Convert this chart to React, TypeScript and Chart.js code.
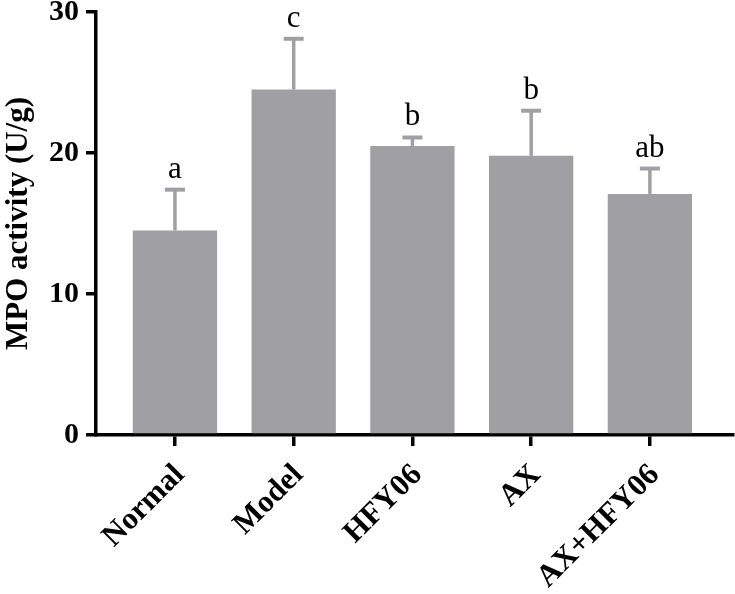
import React, { useEffect, useRef } from "react";
import { Chart, registerables } from "chart.js";

Chart.register(...registerables);

const categories = ["Normal", "Model", "HFY06", "AX", "AX+HFY06"];
const meanValues = [14.5, 24.5, 20.5, 19.8, 17.1];
const upperErrors = [17.4, 28.1, 21.1, 23.0, 18.9];
const letters = ["a", "c", "b", "b", "ab"];
const yTicks = [0, 10, 20, 30];

const BAR_COLOR = "rgb(160,160,164)";
const SERIF = "'Liberation Serif'";

const errorPlugin = {
  id: "errorBarsLetters",
  afterDatasetsDraw(chart: any) {
    const { ctx, scales } = chart;
    const xs = scales.x;
    const ys = scales.y;
    ctx.save();
    categories.forEach((_, i) => {
      const x = xs.getPixelForValue(i);
      const yTop = ys.getPixelForValue(meanValues[i]);
      const yErr = ys.getPixelForValue(upperErrors[i]);
      ctx.strokeStyle = BAR_COLOR;
      ctx.lineWidth = 3.5;
      ctx.beginPath();
      ctx.moveTo(x, yTop);
      ctx.lineTo(x, yErr);
      ctx.stroke();
      ctx.lineWidth = 4;
      ctx.beginPath();
      ctx.moveTo(x - 10, yErr);
      ctx.lineTo(x + 10, yErr);
      ctx.stroke();
      ctx.fillStyle = "#000";
      ctx.font = `31px ${SERIF}`;
      ctx.textAlign = "center";
      ctx.textBaseline = "alphabetic";
      ctx.fillText(letters[i], x, yErr - 12);
    });
    ctx.restore();
  },
};

export default function App() {
  const ref = useRef<HTMLCanvasElement | null>(null);
  useEffect(() => {
    if (!ref.current) return;
    let chart: any = null;
    let cancelled = false;
    const build = () => {
      if (cancelled || !ref.current) return;
      chart = new Chart(ref.current, {
        type: "bar",
        data: {
          datasets: [
            {
              data: meanValues.map((v, i) => ({ x: i, y: v })),
              backgroundColor: BAR_COLOR,
              barPercentage: 0.71,
              categoryPercentage: 1,
            },
          ],
        },
        options: {
          animation: false,
          responsive: false,
          layout: { padding: { top: 12, right: 2, left: 0, bottom: 0 } },
          plugins: { legend: { display: false }, tooltip: { enabled: false } },
          scales: {
            x: {
              type: "linear",
              min: -0.665,
              max: 4.7,
              offset: false,
              afterBuildTicks: (axis: any) => {
                axis.ticks = categories.map((_, i) => ({ value: i }));
              },
              afterFit: (scale: any) => {
                scale.height = 159;
                scale.paddingLeft = 0;
                scale.paddingRight = 0;
              },
              ticks: {
                autoSkip: false,
                maxRotation: 45,
                minRotation: 45,
                color: "#000",
                padding: 11,
                labelOffset: 5,
                font: { family: SERIF, size: 31, weight: "bold" },
                callback: (v: any) => categories[Math.round(Number(v))] ?? "",
              },
              grid: {
                offset: false,
                drawOnChartArea: false,
                drawTicks: true,
                tickLength: 11,
                lineWidth: 3.5,
                color: "#000",
              },
              border: { display: true, width: 3.5, color: "#000" },
            },
            y: {
              min: 0,
              max: 30,
              afterBuildTicks: (axis: any) => {
                axis.ticks = yTicks.map((v) => ({ value: v }));
              },
              afterFit: (scale: any) => {
                scale.width = 96;
                scale.paddingTop = 0;
                scale.paddingBottom = 0;
              },
              ticks: {
                color: "#000",
                padding: 7,
                font: { family: SERIF, size: 30, weight: "bold" },
              },
              title: {
                display: true,
                text: "MPO activity (U/g)",
                color: "#000",
                padding: { top: 0, bottom: 6 },
                font: { family: SERIF, size: 31, weight: "bold" },
              },
              grid: {
                offset: false,
                drawOnChartArea: false,
                drawTicks: true,
                tickLength: 10,
                lineWidth: 3.5,
                color: "#000",
              },
              border: { display: true, width: 3.5, color: "#000" },
            },
          },
        },
        plugins: [errorPlugin],
      } as any);
    };
    const fonts: any = (document as any).fonts;
    if (fonts && fonts.load) {
      Promise.all([
        fonts.load(`bold 28px ${SERIF}`),
        fonts.load(`28px ${SERIF}`),
      ]).then(build, build);
    } else {
      build();
    }
    return () => {
      cancelled = true;
      if (chart) chart.destroy();
    };
  }, []);
  return (
    <div style={{ position: "absolute", left: 0, top: 0, width: 735, height: 594, background: "#fff" }}>
      <canvas ref={ref} width={735} height={594} />
    </div>
  );
}
